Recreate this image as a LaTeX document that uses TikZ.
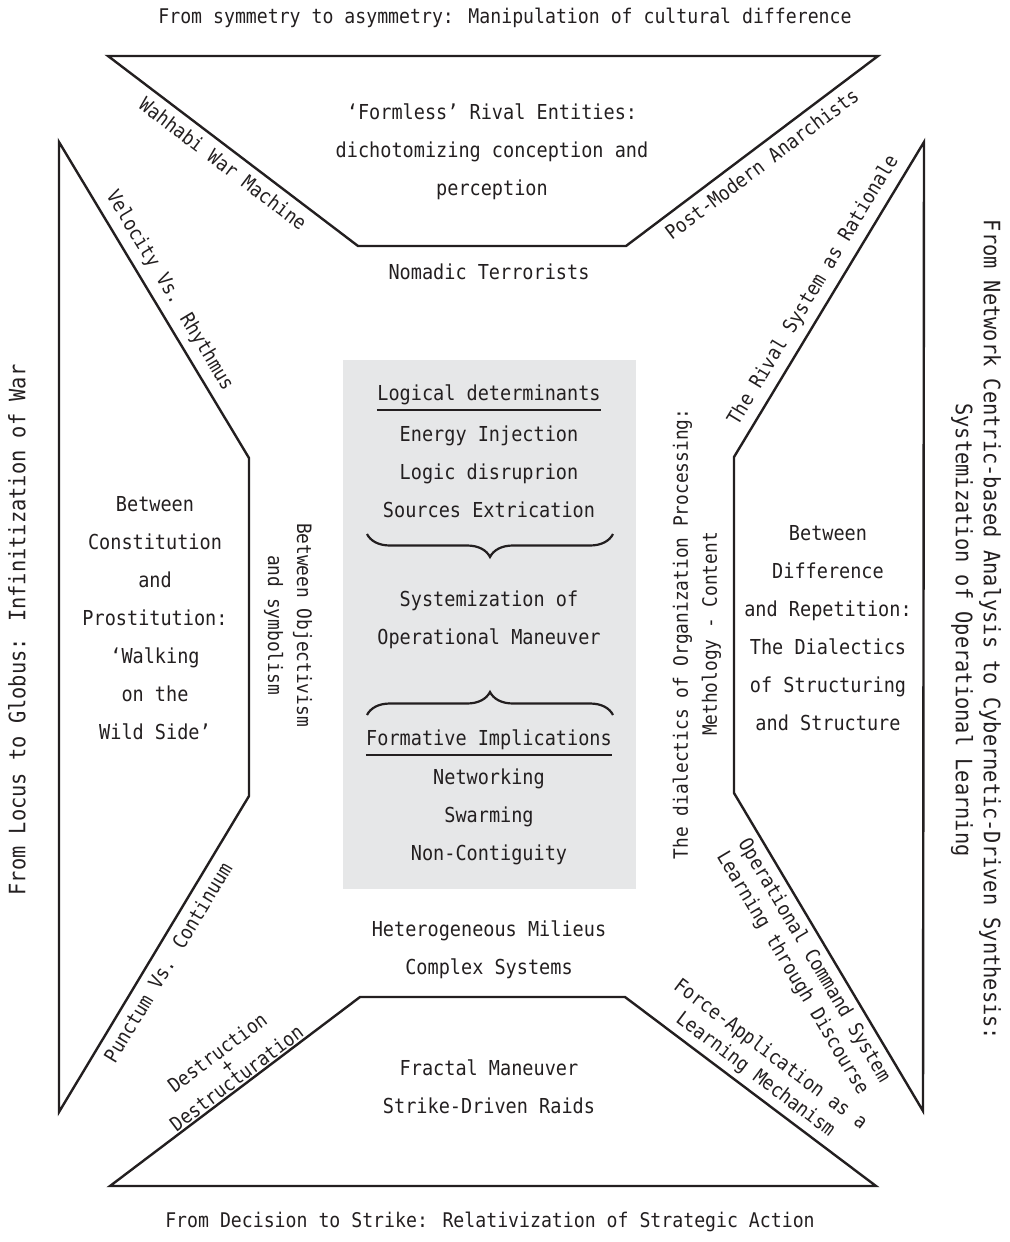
\documentclass[tikz,border=0pt]{standalone}
\usepackage{fontspec}
\setmainfont[FakeStretch=0.9]{DejaVu Sans Mono}
\usepackage{tikz}
\usetikzlibrary{positioning, decorations.pathreplacing, calc}
\definecolor{grisCaja}{HTML}{E6E7E8}
\definecolor{grisTinta}{HTML}{231F20}
\colorlet{colLinea}{grisTinta}
\colorlet{colTexto}{grisTinta}
\tikzset{
  forma/.style={draw=colLinea, line width=1.2pt, line join=miter},
  textoZona/.style={align=center, text=colTexto, inner sep=0pt,
    font=\fontsize{10.3}{19}\selectfont},
  encabezado/.style={textoZona, inner xsep=0pt, inner ysep=2.2pt},
  subrayado/.style={draw=colLinea, line width=1pt},
  llave/.style={draw=colLinea, line width=1.1pt, decorate,
    decoration={brace, amplitude=11.5pt}},
  cajaCentral/.style={fill=grisCaja, draw=none, inner sep=0pt,
    minimum width=146.5pt, minimum height=264.5pt},
  etiquetaDiag/.style={sloped, midway, align=center, text=colTexto, inner sep=4pt,
    font=\fontsize{9.9}{12.5}\selectfont},
  etiquetaVert/.style={align=center, text=colTexto, inner sep=0pt,
    font=\fontsize{9.9}{14.5}\selectfont},
  tituloBorde/.style={align=center, text=colTexto, inner sep=0pt,
    font=\fontsize{11.3}{14}\selectfont},
  tituloHoriz/.style={tituloBorde, font=\fontsize{10.1}{14}\selectfont},
}

\begin{document}
\begin{tikzpicture}[x=0.5pt, y=-0.5pt]
  \useasboundingbox (0,0) rectangle (1010,1242);

  % vertices of the four frames
  \coordinate (tA) at (108,56);   \coordinate (tB) at (878,56);
  \coordinate (tC) at (626,246);  \coordinate (tD) at (358,246);
  \coordinate (iA) at (59,142);   \coordinate (iB) at (249,458);
  \coordinate (iC) at (249,796);  \coordinate (iD) at (59,1112);
  \coordinate (dA) at (924,142);  \coordinate (dB) at (734,457);
  \coordinate (dC) at (734,793);  \coordinate (dD) at (923,1111);
  \coordinate (bA) at (360,997);  \coordinate (bB) at (625,997);
  \coordinate (bC) at (876,1186); \coordinate (bD) at (110,1186);

  \draw[forma] (tA) -- (tB) -- (tC) -- (tD) -- cycle;
  \draw[forma] (iA) -- (iB) -- (iC) -- (iD) -- cycle;
  \draw[forma] (dA) -- (dB) -- (dC) -- (dD) -- cycle;
  \draw[forma] (bA) -- (bB) -- (bC) -- (bD) -- cycle;

  % labels along the slanted edges
  \path (tA) -- (tD) node[etiquetaDiag, below] {Wahhabi War Machine};
  \path (tC) -- (tB) node[etiquetaDiag, below] {Post-Modern Anarchists};
  \path (iA) -- (iB) node[etiquetaDiag, above] {Velocity Vs. Rhythmus};
  \path (dB) -- (dA) node[etiquetaDiag, above] {The Rival System as Rationale};
  \path (iD) -- (iC) node[etiquetaDiag, below] {Punctum Vs. Continuum};
  \path (dC) -- (dD) node[etiquetaDiag, below, inner sep=3.5pt] {Operational Command System\\Learning through Discourse};
  \path (bB) -- (bC) node[etiquetaDiag, above, pos=0.48, inner sep=3pt] {Force-Application as a\\Learning Mechanism};
  \path (bD) -- (bA) node[etiquetaDiag, above, pos=0.53, inner sep=1pt,
    font=\fontsize{9.9}{8}\selectfont] {Destruction\\+\\Destructuration};

  % text inside the frames
  \node[textoZona] (formless) at (492,152) {‘Formless’ Rival Entities:\\dichotomizing conception and\\perception};
  \node[textoZona] (constitucion) at (155,618) {Between\\Constitution\\and\\Prostitution:\\‘Walking\\on the\\Wild Side’};
  \node[textoZona] (diferencia) at (828,628) {Between\\Difference\\and Repetition:\\The Dialectics\\of Structuring\\and Structure};
  \node[textoZona] (fractal) at (489,1087) {Fractal Maneuver\\Strike-Driven Raids};

  \node[textoZona] (nomadas) at (489,272) {Nomadic Terrorists};
  \node[textoZona] (milieus) at (489,950) {Heterogeneous Milieus\\Complex Systems};
  \node[etiquetaVert, rotate=-90] (objetivismo) at (288,625) {Between Objectivism\\and symbolism};
  \node[etiquetaVert, rotate=90] (dialectica) at (697,634) {The dialectics of Organization Processing:\\Methology - Content};

  % central grey panel
  \node[cajaCentral] (caja) at (489.5,624.5) {};
  \node[encabezado] (logicos) at (489,395) {Logical determinants};
  \draw[subrayado] (logicos.south west) -- (logicos.south east);
  \node[textoZona] (energia) at (489,472) {Energy Injection\\Logic disruprion\\Sources Extrication};
  \draw[llave] (613,534) -- (367,534);
  \node[textoZona] (sistema) at (489,620) {Systemization of\\Operational Maneuver};
  \draw[llave] (367,715) -- (613,715);
  \node[encabezado] (formativas) at (489,740) {Formative Implications};
  \draw[subrayado] (formativas.south west) -- (formativas.south east);
  \node[textoZona] (redes) at (489,817) {Networking\\Swarming\\Non-Contiguity};

  % titles on the four borders
  \node[tituloHoriz] (tituloN) at (505,18) {From symmetry to asymmetry: Manipulation of cultural difference};
  \node[tituloHoriz] (tituloS) at (490,1222) {From Decision to Strike: Relativization of Strategic Action};
  \node[tituloBorde, rotate=90] (tituloO) at (17,630) {From Locus to Globus: Infinitization of War};
  \node[tituloBorde, rotate=-90] (tituloE) at (976,630) {From Network Centric-based Analysis to Cybernetic-Driven Synthesis:\\Systemization of Operational Learning};
\end{tikzpicture}
\end{document}
